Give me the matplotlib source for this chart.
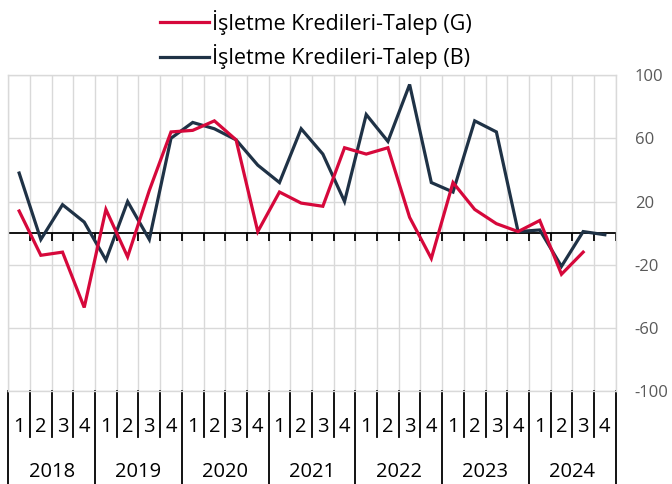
import numpy as np
import matplotlib
matplotlib.use("Agg")
import matplotlib.pyplot as plt

plt.rcParams['font.family'] = ['Open Sans', 'DejaVu Sans']
plt.rcParams['axes.unicode_minus'] = False

years = ["2018", "2019", "2020", "2021", "2022", "2023", "2024"]
quarters = ["1", "2", "3", "4"]

# Isletme Kredileri-Talep (G), 2018Q1 - 2024Q3
talep_g = [14, -14, -12, -47, 15, -15, 27, 64,
           65, 71, 59, 1, 26, 19, 17, 54,
           50, 54, 10, -16, 32, 15, 6, 1,
           8, -26, -12]
# Isletme Kredileri-Talep (B), 2018Q1 - 2024Q4
talep_b = [38, -4, 18, 7, -17, 20, -4, 60,
           70, 66, 59, 43, 32, 66, 50, 20,
           75, 58, 94, 32, 26, 71, 64, 1,
           2, -21, 1, -1]

red = "#D6083B"
navy = "#1F3246"
grid_c = "#D9D9D9"

n = len(years) * len(quarters)

fig = plt.figure(figsize=(6.72, 4.84), dpi=100)
ax = fig.add_axes([8.3 / 672, 1 - 391.3 / 484, 607.4 / 672, 316.3 / 484])

x_g = np.arange(len(talep_g)) + 0.5
x_b = np.arange(len(talep_b)) + 0.5
l1, = ax.plot(x_g, talep_g, color=red, lw=2.3, solid_joinstyle="miter", zorder=4,
              label="İşletme Kredileri-Talep (G)")
l2, = ax.plot(x_b, talep_b, color=navy, lw=2.3, solid_joinstyle="miter", zorder=3,
              label="İşletme Kredileri-Talep (B)")

ax.set_xlim(0, n)
ax.set_ylim(-100, 100)
ax.set_xticks(range(n + 1))
ax.set_xticklabels([])
ax.set_yticks([100, 60, 20, -20, -60, -100])
ax.yaxis.tick_right()
ax.tick_params(axis="both", length=0)
ax.tick_params(axis="y", labelsize=12, labelcolor="#595959", pad=13.7)
ax.grid(True, color=grid_c, lw=1)
for s in ax.spines.values():
    s.set_color(grid_c)
    s.set_linewidth(1)

# zero line with small ticks
ax.axhline(0, color="black", lw=1.3, zorder=2)
ax.vlines(range(n + 1), -5, 0, color="black", lw=1.3, zorder=2)

# category axis below the plot
tr = ax.get_xaxis_transform()
for k in range(n + 1):
    bottom = -0.293 if k % 4 == 0 else -0.1435
    ax.plot([k, k], [0, bottom], color="black", lw=1.3, transform=tr, clip_on=False)
for i in range(n):
    ax.text(i + 0.5, -0.112, quarters[i % 4], transform=tr, ha="center", va="center",
            fontsize=14.5)
for j, y in enumerate(years):
    ax.text(j * 4 + 2, -0.254, y, transform=tr, ha="center", va="center", fontsize=14.5)

fig.legend(handles=[l1, l2], loc="upper center", bbox_to_anchor=(0.47, 1.02),
           frameon=False, fontsize=15.5, handlelength=2.3, handletextpad=0.15,
           labelspacing=0.45)

fig.savefig("out.png", dpi=100)
